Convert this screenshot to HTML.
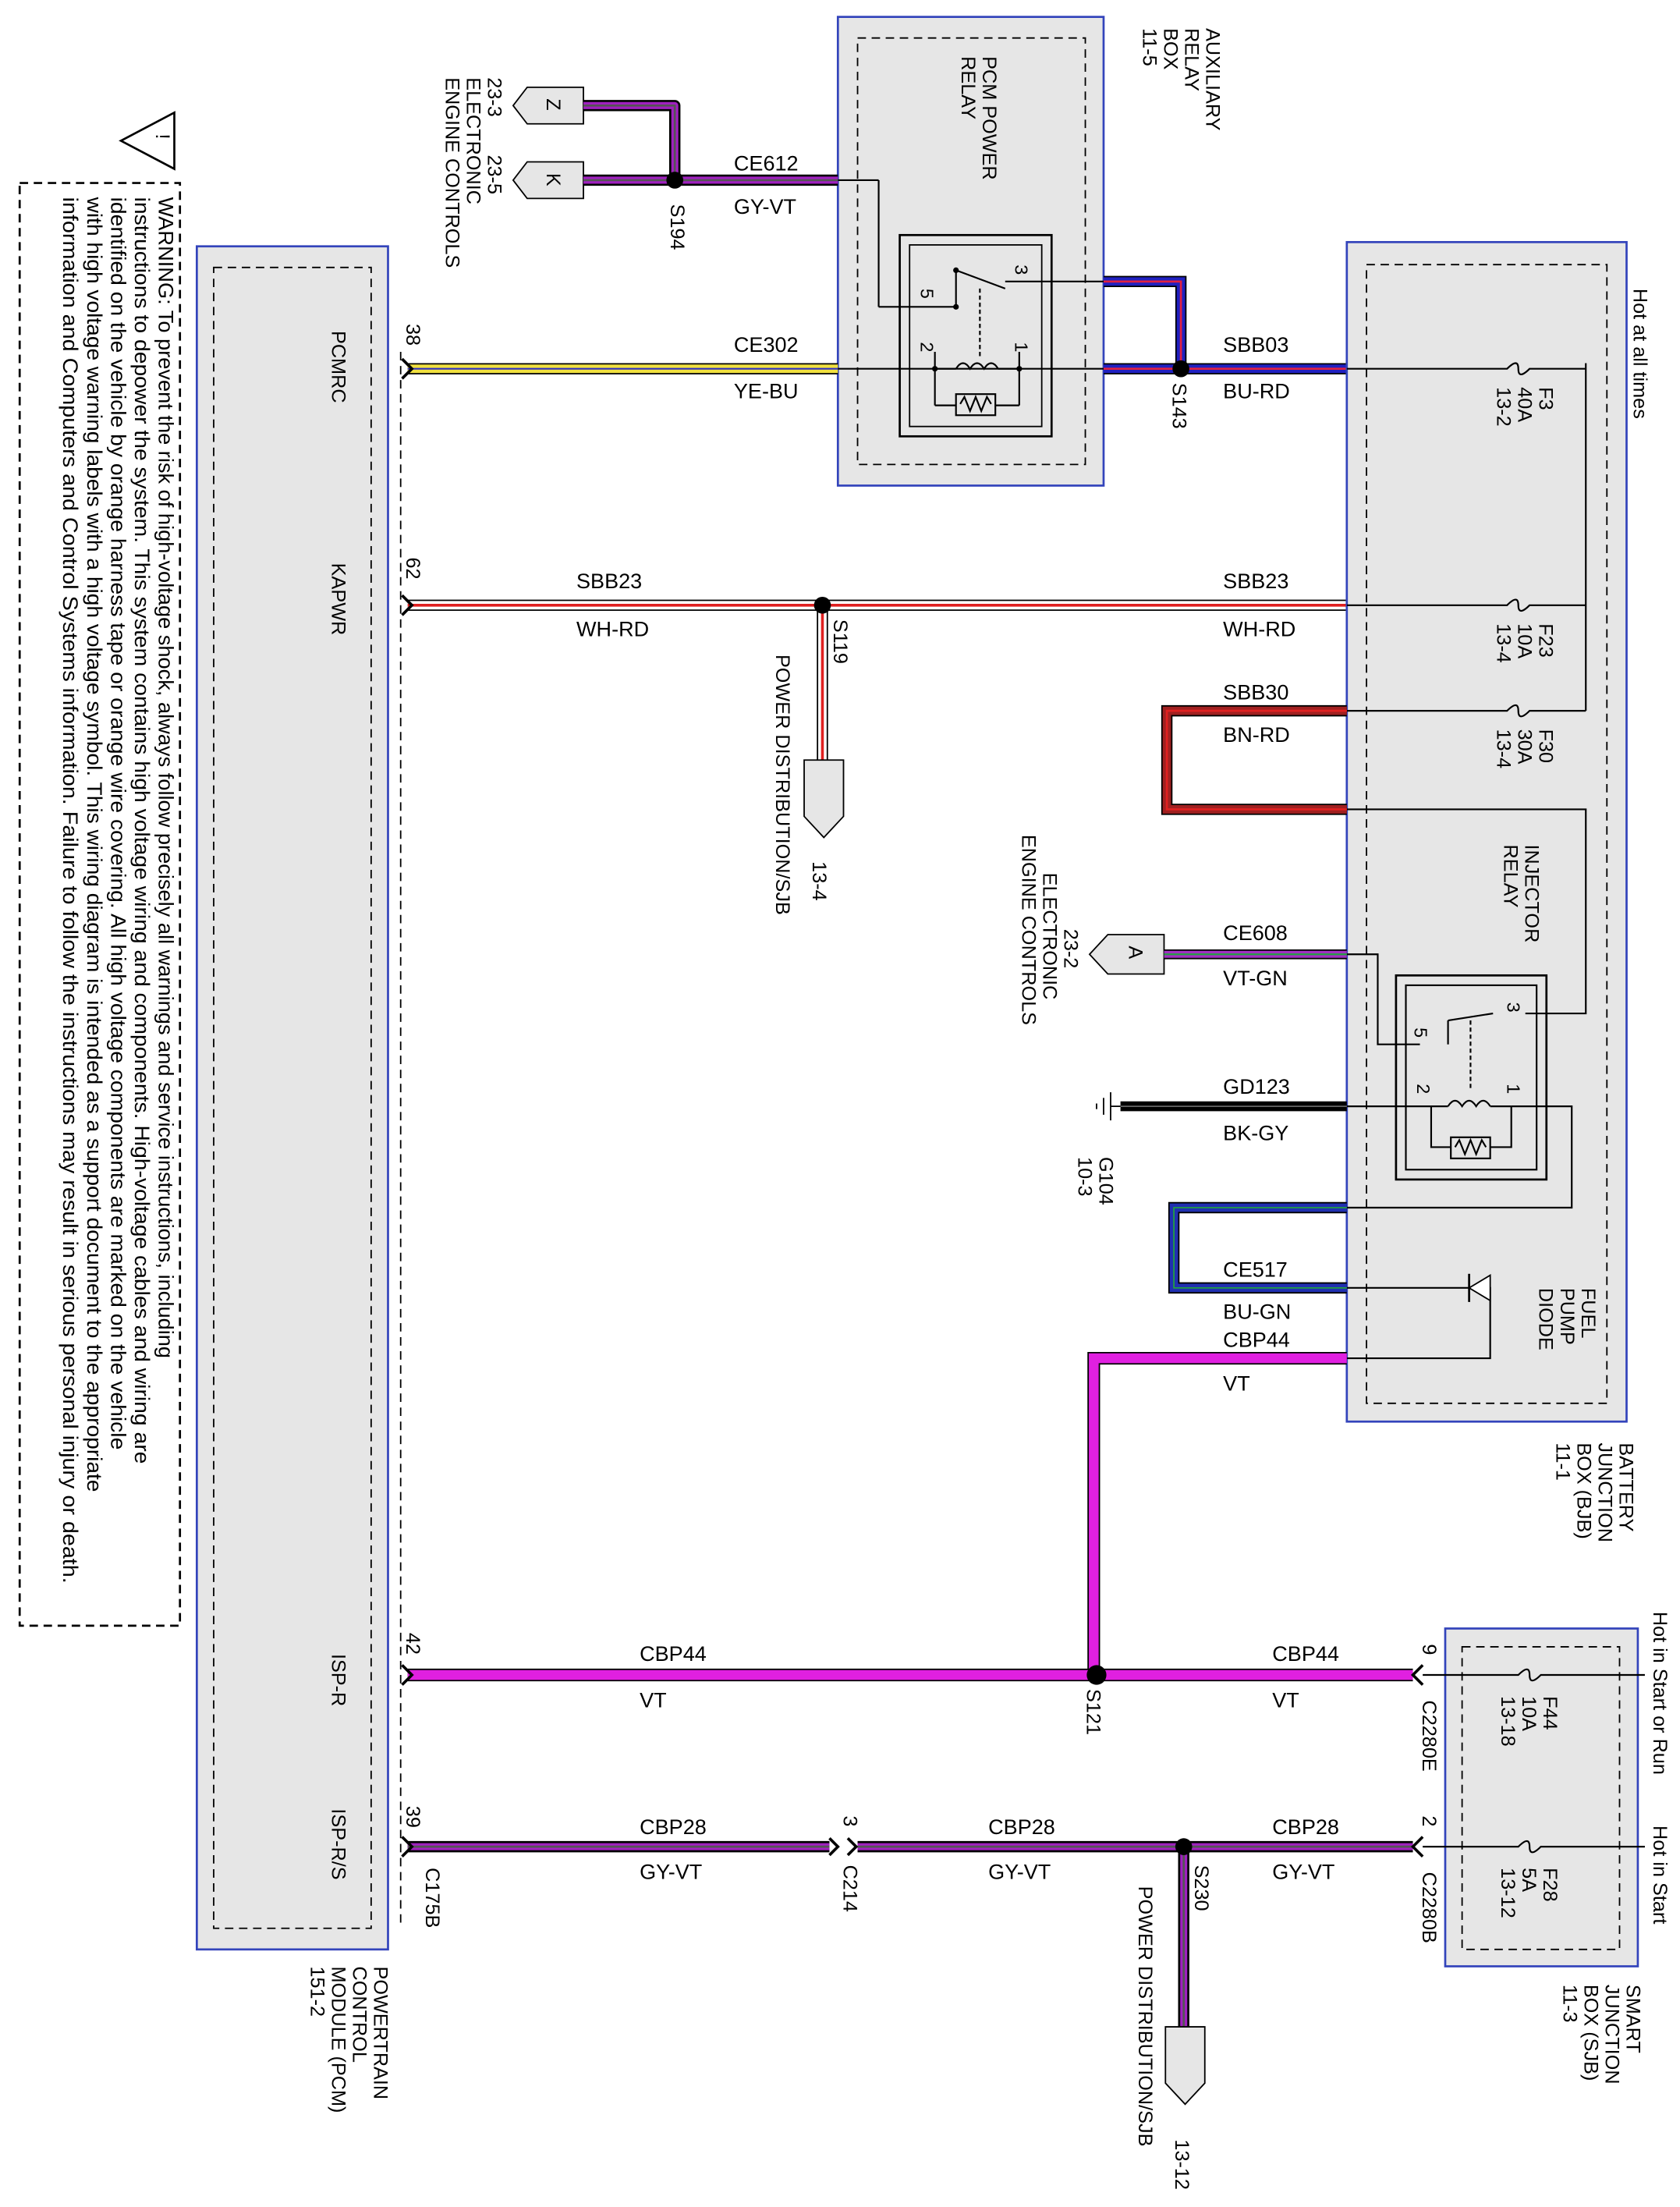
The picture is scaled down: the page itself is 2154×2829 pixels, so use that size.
<!DOCTYPE html>
<html><head><meta charset="utf-8"><style>
html,body{margin:0;padding:0;background:#fff}
svg{display:block}
text{font-family:"Liberation Sans",Arial,sans-serif;fill:#000}
.r{font-size:14px}
.w{font-size:15px}
.s{font-size:15px}
</style></head><body>
<svg width="2154" height="2829" viewBox="0 0 1195 1568" preserveAspectRatio="none" xmlns="http://www.w3.org/2000/svg">
<rect width="1195" height="1568" fill="#fff"/>

<!-- Warning -->
<rect x="14" y="130" width="114" height="1025" fill="none" stroke="#000" stroke-width="1.5" stroke-dasharray="6,4"/>
<polygon points="86,100 124,80 124,120" fill="#fff" stroke="#000" stroke-width="1.5"/>
<text class="r" transform="translate(111,97) rotate(90)" text-anchor="middle" font-size="18">!</text>
<g class="s">
<text transform="translate(113,140) rotate(90)" textLength="825" lengthAdjust="spacingAndGlyphs">WARNING: To prevent the risk of high-voltage shock, always follow precisely all warnings and service instructions, including</text>
<text transform="translate(96,140) rotate(90)" textLength="900" lengthAdjust="spacingAndGlyphs">instructions to depower the system. This system contains high voltage wiring and components. High-voltage cables and wiring are</text>
<text transform="translate(79,140) rotate(90)" textLength="890" lengthAdjust="spacingAndGlyphs">identified on the vehicle by orange harness tape or orange wire covering. All high voltage components are marked on the vehicle</text>
<text transform="translate(62,140) rotate(90)" textLength="920" lengthAdjust="spacingAndGlyphs">with high voltage warning labels with a high voltage symbol. This wiring diagram is intended as a support document to the appropriate</text>
<text transform="translate(45,140) rotate(90)" textLength="985" lengthAdjust="spacingAndGlyphs">information and Computers and Control Systems information. Failure to follow the instructions may result in serious personal injury or death.</text>
</g>

<!-- PCM box -->
<rect x="140" y="175" width="136" height="1210" fill="#e6e6e6" stroke="#3344bb" stroke-width="1.5"/>
<rect x="152" y="190" width="112" height="1180" fill="none" stroke="#000" stroke-dasharray="6,4"/>
<line x1="285" y1="250" x2="285" y2="1370" stroke="#000" stroke-dasharray="6,4"/>
<g class="r">
<text transform="translate(236,235) rotate(90)">PCMRC</text>
<text transform="translate(236,400) rotate(90)">KAPWR</text>
<text transform="translate(236,1175) rotate(90)">ISP-R</text>
<text transform="translate(236,1285) rotate(90)">ISP-R/S</text>
<text transform="translate(266,1397) rotate(90)">POWERTRAIN</text>
<text transform="translate(251,1397) rotate(90)">CONTROL</text>
<text transform="translate(236,1397) rotate(90)">MODULE (PCM)</text>
<text transform="translate(221,1397) rotate(90)">151-2</text>
<text transform="translate(289,230) rotate(90)">38</text>
<text transform="translate(289,396) rotate(90)">62</text>
<text transform="translate(289,1160) rotate(90)">42</text>
<text transform="translate(289,1283) rotate(90)">39</text>
<text transform="translate(303,1327) rotate(90)">C175B</text>
</g>

<!-- Aux relay box -->
<rect x="596" y="12" width="189" height="333" fill="#e6e6e6" stroke="#3344bb" stroke-width="1.5"/>
<rect x="610" y="27" width="162" height="303" fill="none" stroke="#000" stroke-dasharray="6,4"/>
<g class="r">
<text transform="translate(699,40) rotate(90)">PCM POWER</text>
<text transform="translate(684,40) rotate(90)">RELAY</text>
<text transform="translate(858,20) rotate(90)">AUXILIARY</text>
<text transform="translate(843,20) rotate(90)">RELAY</text>
<text transform="translate(828,20) rotate(90)">BOX</text>
<text transform="translate(813,20) rotate(90)">11-5</text>
</g>
<rect x="640" y="167" width="108" height="143" fill="none" stroke="#000" stroke-width="1.5"/>
<rect x="647" y="174" width="94" height="129" fill="none" stroke="#000"/>
<g stroke="#000" fill="none" stroke-width="1.2">
<line x1="596" y1="128" x2="625" y2="128"/><line x1="625" y1="128" x2="625" y2="218"/><line x1="625" y1="218" x2="680" y2="218"/>
<line x1="680" y1="218" x2="680" y2="192"/><line x1="680" y1="192" x2="715" y2="205"/>
<line x1="715" y1="200" x2="785" y2="200"/>
<line x1="697" y1="205" x2="697" y2="255" stroke-dasharray="3,2"/>
<line x1="665" y1="250" x2="665" y2="288"/><line x1="665" y1="288" x2="680" y2="288"/>
<line x1="725" y1="250" x2="725" y2="288"/><line x1="725" y1="288" x2="708" y2="288"/>
<rect x="680" y="280" width="28" height="15"/>
<path d="M683,287 l3,-5 l4,10 l4,-10 l4,10 l4,-10 l3,5"/>
<path d="M680,262 q5,-8 10,0 q5,-8 10,0 q5,-8 10,0"/>
<line x1="665" y1="262" x2="680" y2="262"/><line x1="710" y1="262" x2="725" y2="262"/>
</g>
<circle cx="680" cy="192" r="2" fill="#000"/><circle cx="680" cy="218" r="2" fill="#000"/>
<circle cx="665" cy="262" r="2" fill="#000"/><circle cx="725" cy="262" r="2" fill="#000"/>
<g style="font-size:13px">
<text transform="translate(655,205) rotate(90)">5</text>
<text transform="translate(722,188) rotate(90)">3</text>
<text transform="translate(655,243) rotate(90)">2</text>
<text transform="translate(722,243) rotate(90)">1</text>
</g>

<!-- Connectors Z, K -->
<polygon points="365,75 375,62 415,62 415,88 375,88" fill="#e6e6e6" stroke="#000"/>
<polygon points="365,128 375,115 415,115 415,141 375,141" fill="#e6e6e6" stroke="#000"/>
<text class="r" transform="translate(389,70) rotate(90)">Z</text>
<text class="r" transform="translate(389,123) rotate(90)">K</text>
<g class="r">
<text transform="translate(347,55) rotate(90)">23-3</text>
<text transform="translate(347,110) rotate(90)">23-5</text>
<text transform="translate(332,55) rotate(90)">ELECTRONIC</text>
<text transform="translate(317,55) rotate(90)">ENGINE CONTROLS</text>
<text transform="translate(477,145) rotate(90)">S194</text>
</g>
<g fill="none" stroke-linejoin="round">
<path d="M415,75 H480 V128" stroke="#000" stroke-width="8"/>
<path d="M415,75 H480 V128" stroke="#a020c0" stroke-width="5"/>
<path d="M415,128 H596" stroke="#000" stroke-width="8"/>
<path d="M415,128 H596" stroke="#a020c0" stroke-width="5"/>
<path d="M415,128 H596 M415,75 H480 V128" stroke="#555" stroke-width="1.5"/>
</g>
<circle cx="480" cy="128" r="6" fill="#000"/>
<text class="w" x="522" y="121">CE612</text>
<text class="w" x="522" y="152">GY-VT</text>

<!-- CE302 / SBB03 -->
<path d="M290,262 H596" stroke="#000" stroke-width="8"/>
<path d="M290,262 H596" stroke="#f0e040" stroke-width="6"/>
<path d="M290,262 H596" stroke="#3030c0" stroke-width="1.2"/>
<line x1="596" y1="262" x2="785" y2="262" stroke="#000" stroke-width="1.2"/>
<g fill="none">
<path d="M785,200 H840 V262 M785,262 H958" stroke="#000" stroke-width="8"/>
<path d="M785,200 H840 V262 M785,262 H958" stroke="#2020c0" stroke-width="6"/>
<path d="M785,200 H840 V262 M785,262 H958" stroke="#e02040" stroke-width="1.5"/>
</g>
<circle cx="840" cy="262" r="6" fill="#000"/>
<text class="w" x="522" y="250">CE302</text>
<text class="w" x="522" y="283">YE-BU</text>
<text class="w" x="870" y="250">SBB03</text>
<text class="w" x="870" y="283">BU-RD</text>
<text class="r" transform="translate(834,272) rotate(90)">S143</text>

<!-- SBB23 -->
<path d="M290,430 H958 M585,430 V540" stroke="#000" stroke-width="8" fill="none"/>
<path d="M290,430 H958 M585,430 V540" stroke="#ffffff" stroke-width="6" fill="none"/>
<path d="M290,430 H958 M585,430 V540" stroke="#e02020" stroke-width="2" fill="none"/>
<circle cx="585" cy="430" r="6" fill="#000"/>
<text class="w" x="410" y="418">SBB23</text>
<text class="w" x="410" y="452">WH-RD</text>
<text class="w" x="870" y="418">SBB23</text>
<text class="w" x="870" y="452">WH-RD</text>
<text class="r" transform="translate(593,440) rotate(90)">S119</text>
<polygon points="572,540 600,540 600,580 586,595 572,580" fill="#e6e6e6" stroke="#000"/>
<text class="r" transform="translate(552,465) rotate(90)">POWER DISTRIBUTION/SJB</text>
<text class="r" transform="translate(578,612) rotate(90)">13-4</text>

<!-- BJB -->
<rect x="958" y="172" width="199" height="838" fill="#e6e6e6" stroke="#3344bb" stroke-width="1.5"/>
<rect x="972" y="188" width="171" height="809" fill="none" stroke="#000" stroke-dasharray="6,4"/>
<g class="r">
<text transform="translate(1162,205) rotate(90)">Hot at all times</text>
<text transform="translate(1095,275) rotate(90)">F3</text>
<text transform="translate(1080,275) rotate(90)">40A</text>
<text transform="translate(1065,275) rotate(90)">13-2</text>
<text transform="translate(1095,443) rotate(90)">F23</text>
<text transform="translate(1080,443) rotate(90)">10A</text>
<text transform="translate(1065,443) rotate(90)">13-4</text>
<text transform="translate(1095,518) rotate(90)">F30</text>
<text transform="translate(1080,518) rotate(90)">30A</text>
<text transform="translate(1065,518) rotate(90)">13-4</text>
<text transform="translate(1085,600) rotate(90)">INJECTOR</text>
<text transform="translate(1070,600) rotate(90)">RELAY</text>
<text transform="translate(1125,915) rotate(90)">FUEL</text>
<text transform="translate(1110,915) rotate(90)">PUMP</text>
<text transform="translate(1095,915) rotate(90)">DIODE</text>
<text transform="translate(1152,1025) rotate(90)">BATTERY</text>
<text transform="translate(1137,1025) rotate(90)">JUNCTION</text>
<text transform="translate(1122,1025) rotate(90)">BOX (BJB)</text>
<text transform="translate(1107,1025) rotate(90)">11-1</text>
</g>
<g stroke="#000" fill="none" stroke-width="1.2">
<path d="M958,262 H1072 q8,-8 8,0 q0,8 8,0 H1128"/>
<path d="M958,430 H1072 q8,-8 8,0 q0,8 8,0 H1128"/>
<path d="M958,505 H1072 q8,-8 8,0 q0,8 8,0 H1128"/>
<line x1="1128" y1="258" x2="1128" y2="505"/>
<path d="M958,575 H1128 V720 H1085"/>
<path d="M958,678 H980 V742 H1010"/>
<path d="M958,786 H1018"/>
<path d="M1075,786 H1118 V858 H958"/>
<path d="M958,915 H1060 V965 H958"/>
<rect x="993" y="693" width="107" height="145" stroke-width="1.5"/>
<rect x="1000" y="700" width="93" height="131"/>
<line x1="1030" y1="725" x2="1062" y2="720"/>
<line x1="1030" y1="725" x2="1030" y2="742"/>
<line x1="1046" y1="725" x2="1046" y2="775" stroke-dasharray="3,2"/>
<path d="M1018,786 V815 H1032 M1075,786 V815 H1060"/>
<rect x="1032" y="808" width="28" height="15"/>
<path d="M1035,815 l3,-5 l4,10 l4,-10 l4,10 l4,-10 l3,5"/>
<path d="M1030,786 q5,-8 10,0 q5,-8 10,0 q5,-8 10,0"/>
<line x1="1018" y1="786" x2="1030" y2="786"/><line x1="1060" y1="786" x2="1075" y2="786"/>
</g>
<polygon points="1045,915 1060,906 1060,924" fill="#fff" stroke="#000"/>
<line x1="1045" y1="905" x2="1045" y2="925" stroke="#000" stroke-width="1.5"/>
<g style="font-size:13px">
<text transform="translate(1006,730) rotate(90)">5</text>
<text transform="translate(1072,712) rotate(90)">3</text>
<text transform="translate(1008,770) rotate(90)">2</text>
<text transform="translate(1072,770) rotate(90)">1</text>
</g>

<!-- BN-RD -->
<path d="M958,505 H830 V575 H958" fill="none" stroke="#000" stroke-width="8"/>
<path d="M958,505 H830 V575 H958" fill="none" stroke="#a02020" stroke-width="6"/>
<path d="M958,505 H830 V575 H958" fill="none" stroke="#e02020" stroke-width="1.5"/>
<text class="w" x="870" y="497">SBB30</text>
<text class="w" x="870" y="527">BN-RD</text>

<!-- CE608 -->
<polygon points="775,678 788,664 828,664 828,692 788,692" fill="#e6e6e6" stroke="#000"/>
<text class="r" transform="translate(803,672) rotate(90)">A</text>
<path d="M828,678 H958" stroke="#000" stroke-width="7"/>
<path d="M828,678 H958" stroke="#a030c0" stroke-width="5"/>
<path d="M828,678 H958" stroke="#20a040" stroke-width="1.2"/>
<text class="w" x="870" y="668">CE608</text>
<text class="w" x="870" y="700">VT-GN</text>
<g class="r">
<text transform="translate(757,660) rotate(90)">23-2</text>
<text transform="translate(742,620) rotate(90)">ELECTRONIC</text>
<text transform="translate(727,593) rotate(90)">ENGINE CONTROLS</text>
</g>

<!-- GD123 -->
<path d="M797,786 H958" stroke="#000" stroke-width="7"/>
<path d="M797,786 H958" stroke="#666" stroke-width="1"/>
<g stroke="#000"><line x1="790" y1="776" x2="790" y2="796"/><line x1="785" y1="780" x2="785" y2="792"/><line x1="780" y1="784" x2="780" y2="788"/><line x1="790" y1="786" x2="797" y2="786"/></g>
<text class="w" x="870" y="777">GD123</text>
<text class="w" x="870" y="810">BK-GY</text>
<text class="r" transform="translate(782,822) rotate(90)">G104</text>
<text class="r" transform="translate(767,822) rotate(90)">10-3</text>

<!-- CE517 -->
<path d="M958,858 H835 V915 H958" fill="none" stroke="#000" stroke-width="8"/>
<path d="M958,858 H835 V915 H958" fill="none" stroke="#2030b0" stroke-width="6"/>
<path d="M958,858 H835 V915 H958" fill="none" stroke="#20a040" stroke-width="1"/>
<text class="w" x="870" y="907">CE517</text>
<text class="w" x="870" y="937">BU-GN</text>
<text class="w" x="870" y="957">CBP44</text>
<text class="w" x="870" y="988">VT</text>

<!-- CBP44 -->
<path d="M958,965 H778 V1190 M290,1190 H1005" fill="none" stroke="#000" stroke-width="9"/>
<path d="M958,965 H778 V1190 M290,1190 H1005" fill="none" stroke="#e020e0" stroke-width="7"/>
<circle cx="780" cy="1190" r="7" fill="#000"/>
<text class="w" x="455" y="1180">CBP44</text>
<text class="w" x="455" y="1213">VT</text>
<text class="w" x="905" y="1180">CBP44</text>
<text class="w" x="905" y="1213">VT</text>
<text class="r" transform="translate(773,1200) rotate(90)">S121</text>
<text class="r" transform="translate(1012,1168) rotate(90)">9</text>
<text class="r" transform="translate(1012,1208) rotate(90)">C2280E</text>

<!-- CBP28 -->
<path d="M290,1312 H590 M610,1312 H1005 M842,1312 V1440" fill="none" stroke="#000" stroke-width="8"/>
<path d="M290,1312 H590 M610,1312 H1005 M842,1312 V1440" fill="none" stroke="#a020c0" stroke-width="5"/>
<path d="M290,1312 H590 M610,1312 H1005 M842,1312 V1440" fill="none" stroke="#555" stroke-width="1.5"/>
<circle cx="842" cy="1312" r="6" fill="#000"/>
<path d="M590,1306 l6,6 l-6,6 M603,1306 l6,6 l-6,6" stroke="#000" fill="none" stroke-width="2"/>
<text class="w" x="455" y="1303">CBP28</text>
<text class="w" x="455" y="1335">GY-VT</text>
<text class="w" x="703" y="1303">CBP28</text>
<text class="w" x="703" y="1335">GY-VT</text>
<text class="w" x="905" y="1303">CBP28</text>
<text class="w" x="905" y="1335">GY-VT</text>
<text class="r" transform="translate(600,1290) rotate(90)">3</text>
<text class="r" transform="translate(600,1325) rotate(90)">C214</text>
<text class="r" transform="translate(850,1325) rotate(90)">S230</text>
<text class="r" transform="translate(1012,1290) rotate(90)">2</text>
<text class="r" transform="translate(1012,1330) rotate(90)">C2280B</text>
<polygon points="829,1440 857,1440 857,1480 843,1495 829,1480" fill="#e6e6e6" stroke="#000"/>
<text class="r" transform="translate(810,1340) rotate(90)">POWER DISTRIBUTION/SJB</text>
<text class="r" transform="translate(836,1520) rotate(90)">13-12</text>

<g stroke="#000" stroke-width="2" fill="none">
<path d="M286,255 l7,7 l-7,7"/><path d="M286,423 l7,7 l-7,7"/><path d="M286,1183 l7,7 l-7,7"/><path d="M286,1305 l7,7 l-7,7"/>
<path d="M1012,1183 l-7,7 l7,7"/><path d="M1012,1305 l-7,7 l7,7"/>
</g>

<!-- SJB -->
<rect x="1028" y="1157" width="137" height="240" fill="#e6e6e6" stroke="#3344bb" stroke-width="1.5"/>
<rect x="1040" y="1170" width="112" height="215" fill="none" stroke="#000" stroke-dasharray="6,4"/>
<g stroke="#000" fill="none" stroke-width="1.2">
<path d="M1012,1190 H1080 q8,-8 8,0 q0,8 8,0 H1170"/>
<path d="M1012,1312 H1080 q8,-8 8,0 q0,8 8,0 H1170"/>
</g>
<g class="r">
<text transform="translate(1176,1145) rotate(90)">Hot in Start or Run</text>
<text transform="translate(1176,1297) rotate(90)">Hot in Start</text>
<text transform="translate(1098,1205) rotate(90)">F44</text>
<text transform="translate(1083,1205) rotate(90)">10A</text>
<text transform="translate(1068,1205) rotate(90)">13-18</text>
<text transform="translate(1098,1327) rotate(90)">F28</text>
<text transform="translate(1083,1327) rotate(90)">5A</text>
<text transform="translate(1068,1327) rotate(90)">13-12</text>
<text transform="translate(1157,1410) rotate(90)">SMART</text>
<text transform="translate(1142,1410) rotate(90)">JUNCTION</text>
<text transform="translate(1127,1410) rotate(90)">BOX (SJB)</text>
<text transform="translate(1112,1410) rotate(90)">11-3</text>
</g>
</svg>
</body></html>
